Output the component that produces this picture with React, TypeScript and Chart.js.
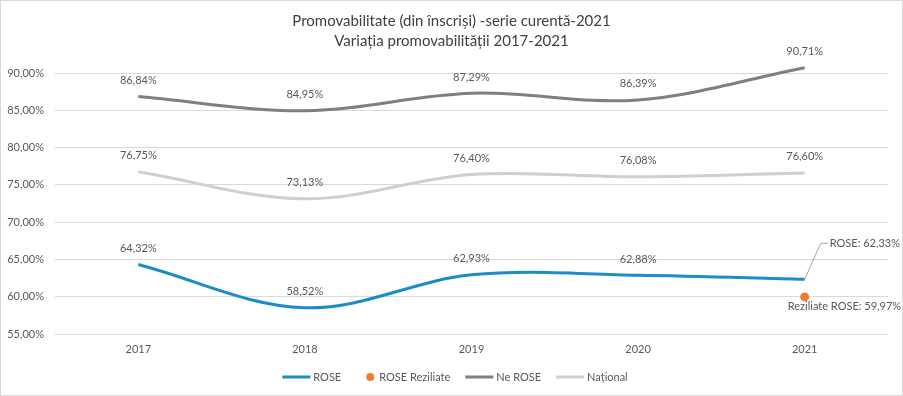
import React, { useEffect, useRef } from 'react';
import { Chart, registerables } from 'chart.js';

Chart.register(...registerables);

const years = ['2017', '2018', '2019', '2020', '2021'];
const rose = [64.32, 58.52, 62.93, 62.88, 62.33];
const roseReziliate = [null, null, null, null, 59.97];
const neRose = [86.84, 84.95, 87.29, 86.39, 90.71];
const national = [76.75, 73.13, 76.4, 76.08, 76.6];
const yMin = 55;
const yMax = 90;
const yStep = 5;
const titleLines = [
  'Promovabilitate (din înscriși) -serie curentă-2021',
  'Variația promovabilității 2017-2021',
];
const seriesNames = ['ROSE', 'ROSE Reziliate', 'Ne ROSE', 'Național'];
const seriesColors = ['#1b8dc6', '#ed7d31', '#7f7f7f', '#cfcfcf'];

const FONT = 'Lato, "Open Sans", sans-serif';
const TEXT = '#595959';

const fmt = (v: number) => v.toFixed(2).replace('.', ',') + '%';

const customPlugin = {
  id: 'custom',
  beforeDraw(chart: any) {
    const { ctx, width, height } = chart;
    ctx.save();
    ctx.fillStyle = '#ffffff';
    ctx.fillRect(0, 0, width, height);
    ctx.restore();
  },
  afterDatasetsDraw(chart: any) {
    const { ctx } = chart;
    ctx.save();
    ctx.font = `11px ${FONT}`;
    ctx.fillStyle = TEXT;
    ctx.textAlign = 'center';
    ctx.textBaseline = 'middle';
    [0, 2, 3].forEach((di) => {
      const meta = chart.getDatasetMeta(di);
      const data = chart.data.datasets[di].data as number[];
      meta.data.forEach((pt: any, i: number) => {
        const v = data[i];
        if (v == null) return;
        if (di === 0 && i === data.length - 1) {
          ctx.save();
          ctx.strokeStyle = '#a6a6a6';
          ctx.lineWidth = 1;
          ctx.beginPath();
          ctx.moveTo(pt.x, pt.y);
          ctx.lineTo(pt.x + 16, pt.y - 36);
          ctx.lineTo(pt.x + 23, pt.y - 36);
          ctx.stroke();
          ctx.restore();
          ctx.textAlign = 'left';
          ctx.fillText(`${seriesNames[0]}: ${fmt(v)}`, pt.x + 25, pt.y - 36);
          ctx.textAlign = 'center';
          return;
        }
        ctx.fillText(fmt(v), pt.x, pt.y - 16);
      });
    });
    const meta1 = chart.getDatasetMeta(1);
    const d1 = chart.data.datasets[1].data as (number | null)[];
    meta1.data.forEach((pt: any, i: number) => {
      const v = d1[i];
      if (v == null) return;
      ctx.textAlign = 'left';
      ctx.fillText(`Reziliate ROSE: ${fmt(v)}`, pt.x - 17, pt.y + 10);
    });
    ctx.restore();
  },
  afterDraw(chart: any) {
    const { ctx, width, height } = chart;
    ctx.save();
    ctx.strokeStyle = '#d9d9d9';
    ctx.lineWidth = 1;
    ctx.strokeRect(0.5, 0.5, width - 1, height - 1);
    ctx.fillStyle = '#404040';
    ctx.font = `15px ${FONT}`;
    ctx.textAlign = 'center';
    ctx.textBaseline = 'middle';
    ctx.fillText(titleLines[0], width / 2, 21);
    ctx.fillText(titleLines[1], width / 2, 41);
    ctx.font = `11px ${FONT}`;
    ctx.textAlign = 'left';
    const ly = 377;
    const gap = 15;
    const items = seriesNames.map((name, i) => {
      const tw = ctx.measureText(name).width;
      const isDot = i === 1;
      const w = isDot ? 23 + tw : 31 + tw;
      return { name, tw, isDot, w, color: seriesColors[i] };
    });
    const total = items.reduce((s, it) => s + it.w, 0) + gap * (items.length - 1);
    let x = 455 - total / 2;
    items.forEach((it) => {
      if (it.isDot) {
        ctx.fillStyle = it.color;
        ctx.beginPath();
        ctx.arc(x + 14, ly, 4, 0, Math.PI * 2);
        ctx.fill();
        ctx.fillStyle = TEXT;
        ctx.fillText(it.name, x + 23, ly);
      } else {
        ctx.strokeStyle = it.color;
        ctx.lineWidth = 3;
        ctx.beginPath();
        ctx.moveTo(x, ly);
        ctx.lineTo(x + 28, ly);
        ctx.stroke();
        ctx.fillStyle = TEXT;
        ctx.fillText(it.name, x + 31, ly);
      }
      x += it.w + gap;
    });
    ctx.restore();
  },
};

export default function App() {
  const ref = useRef<HTMLCanvasElement | null>(null);
  useEffect(() => {
    if (!ref.current) return;
    const lineDs = (label: string, data: any[], color: string) => ({
      label,
      data,
      borderColor: color,
      backgroundColor: color,
      borderWidth: 3,
      pointRadius: 0,
      pointHoverRadius: 0,
      tension: 0.35,
      fill: false,
      clip: false as any,
    });
    const chart = new Chart(ref.current, {
      type: 'line',
      data: {
        labels: years,
        datasets: [
          lineDs(seriesNames[0], rose, seriesColors[0]),
          {
            label: seriesNames[1],
            data: roseReziliate,
            borderColor: seriesColors[1],
            backgroundColor: seriesColors[1],
            showLine: false,
            pointRadius: 4.5,
            pointBorderWidth: 0,
            clip: false as any,
          },
          lineDs(seriesNames[2], neRose, seriesColors[2]),
          lineDs(seriesNames[3], national, seriesColors[3]),
        ],
      },
      options: {
        responsive: false,
        animation: false,
        layout: { padding: { top: 73, left: 0, right: 15, bottom: 0 } },
        plugins: {
          legend: { display: false },
          title: { display: false },
          tooltip: { enabled: false },
        },
        scales: {
          x: {
            offset: true,
            grid: { display: false, drawTicks: false },
            border: { display: false },
            ticks: { color: TEXT, font: { family: FONT, size: 11 }, padding: 9 },
            afterFit: (s: any) => {
              s.height = 62;
            },
          },
          y: {
            min: yMin,
            max: yMax,
            grid: { color: '#d9d9d9', drawTicks: false },
            border: { display: false },
            ticks: {
              stepSize: yStep,
              color: TEXT,
              font: { family: FONT, size: 11 },
              padding: 11,
              callback: (v: any) => fmt(Number(v)),
            },
            afterFit: (s: any) => {
              s.width = 55;
            },
          },
        },
      },
      plugins: [customPlugin],
    });
    return () => chart.destroy();
  }, []);
  return (
    <div style={{ position: 'fixed', left: 0, top: 0, width: 903, height: 396 }}>
      <canvas ref={ref} width={903} height={396} />
    </div>
  );
}
